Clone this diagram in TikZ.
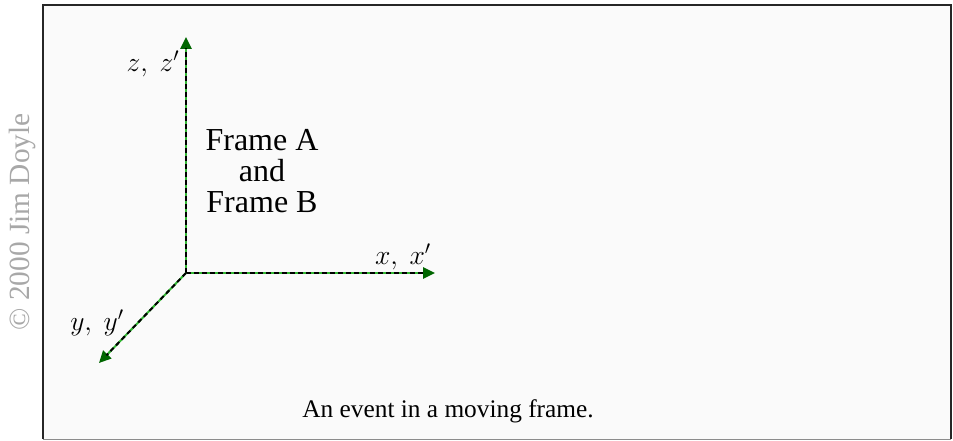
\documentclass[tikz,border=0pt]{standalone}
\usepackage{fontspec}
\setmainfont{Liberation Serif}
\usetikzlibrary{arrows.meta,positioning}
\definecolor{axisgreen}{HTML}{33B833}
\definecolor{tipgreen}{HTML}{006600}
\definecolor{panel}{HTML}{FAFAFA}
\definecolor{stamp}{HTML}{A8A8A8}

\begin{document}
\begin{tikzpicture}[x=0.75pt, y=-0.75pt,
  axis/.style={draw=axisgreen, line width=1.5pt,
               -{Triangle[length=9pt, width=8.5pt, color=tipgreen]},
               postaction={draw=black, line width=1.5pt, dash pattern=on 3.5pt off 2.5pt,
                           -, shorten >=8pt}},
  lbl/.style={inner sep=0pt, font=\fontsize{24}{23.3}\selectfont, align=center},
  axlbl/.style={inner sep=0pt, font=\fontsize{21}{24}\selectfont}]
  \useasboundingbox (0,0) rectangle (953,441);
  % panel
  \fill[panel] (43,5) rectangle (951,439);
  \draw[black!85, line width=1.6pt] (43,439) -- (43,5) -- (951,5) -- (951,439);
  \draw[black!45, line width=0.8pt] (43,439.6) -- (951,439.6);
  \node[rotate=90, text=stamp, font=\fontsize{22}{24}\selectfont] (stamp) at (22,222) {© 2000 Jim Doyle};
  % axes
  \coordinate (O) at (186,273);
  \coordinate (zend) at (186,37);
  \coordinate (xend) at (435,273);
  \coordinate (yend) at (99,363);
  \draw[axis] (O) -- (zend);
  \draw[axis] (O) -- (xend);
  \draw[axis] (O) -- (yend);
  \node[axlbl] (zlab) at (153,64) {$z,\ z'$};
  \node[axlbl] (xlab) at (403,257) {$x,\ x'$};
  \node[axlbl] (ylab) at (97,323) {$y,\ y'$};
  % texts
  \node[lbl] (frames) at (262,171) {Frame A\\and\\Frame B};
  \node[lbl, font=\fontsize{19}{23}\selectfont] (caption) at (448,411) {An event in a moving frame.};
\end{tikzpicture}
\end{document}
